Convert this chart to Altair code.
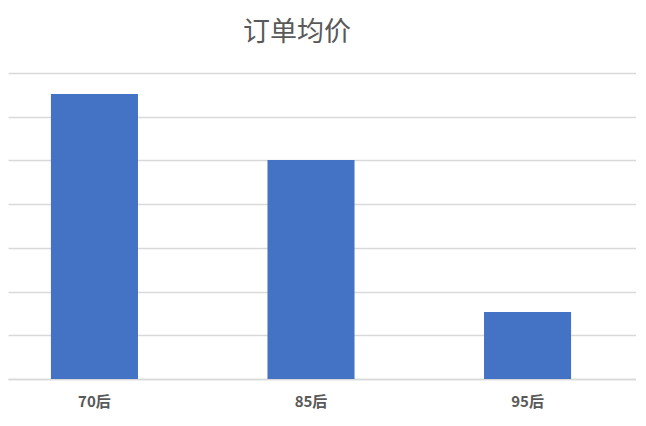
import altair as alt
import pandas as pd

categories = ["70后", "85后", "95后"]
values = [65.2, 50.1, 15.3]

df = pd.DataFrame({"group": categories, "price": values})

font = "Noto Sans CJK SC"

chart = alt.Chart(df).mark_bar(color="#4472C4").encode(
    x=alt.X("group:N", sort=categories,
            scale=alt.Scale(paddingInner=0.598, paddingOuter=0.249, align=0.398),
            axis=alt.Axis(title=None, labelAngle=0, ticks=False, domain=True,
                          domainColor="#d9d9d9", domainWidth=1.5,
                          labelFont=font, labelFontSize=15, labelFontWeight="bold",
                          labelColor="#595959", labelPadding=15)),
    y=alt.Y("price:Q", scale=alt.Scale(domain=[0, 70], nice=False),
            axis=alt.Axis(title=None, labels=False, ticks=False, domain=False,
                          values=[0, 10, 20, 30, 40, 50, 60, 70],
                          grid=True, gridColor="#d9d9d9", gridWidth=1.5)),
).properties(
    width=628,
    height=306,
    title=alt.TitleParams("订单均价", font=font, fontSize=27, fontWeight="normal",
                          color="#595959", anchor="middle",
                          offset=26, dx=-25),
    autosize=alt.AutoSizeParams(type="none"),
    padding={"left": 0, "top": 65, "right": 0, "bottom": 30},
).configure(background="white").configure_view(stroke=None)

chart.save("out.html", embed_options={"renderer": "svg", "actions": False})
